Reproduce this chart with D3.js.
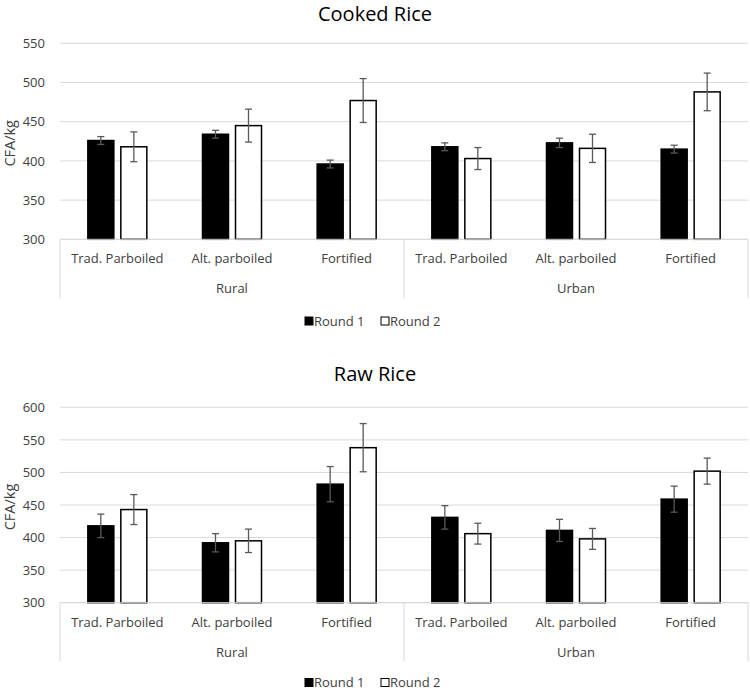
<!doctype html>
<html lang="en">
<head>
    <meta charset="UTF-8">
    <title>Cooked and Raw Rice prices</title>
    <script src="https://d3js.org/d3.v7.min.js"></script>
    <style>
      body { margin: 0; background: #fff; }
      text { font-family: "Open Sans", sans-serif; }
    </style>
</head>
<body>
    <div id="chart"></div>

    <script>

      // Categories
      const groups = ['Rural', 'Urban'];
      const types = ['Trad. Parboiled', 'Alt. parboiled', 'Fortified'];
      const series = ['Round 1', 'Round 2'];

      // Cooked rice (CFA/kg), order: Rural x3, Urban x3
      const cookedRound1 = [426, 434, 396, 418, 423, 415];
      const cookedRound1Err = [5, 5, 5, 5, 6, 5];
      const cookedRound2 = [418, 445, 477, 403, 416, 488];
      const cookedRound2Err = [19, 21, 28, 14, 18, 24];

      // Raw rice (CFA/kg)
      const rawRound1 = [418, 392, 482, 431, 411, 459];
      const rawRound1Err = [18, 14, 27, 18, 17, 20];
      const rawRound2 = [443, 395, 538, 406, 398, 502];
      const rawRound2Err = [23, 18, 37, 16, 16, 20];

      // Tick labels
      const cookedTicks = [300, 350, 400, 450, 500, 550];
      const rawTicks = [300, 350, 400, 450, 500, 550, 600];

      const width = 750;
      const height = 691;

      const svg = d3.select('#chart')
          .append('svg')
          .attr('width', width)
          .attr('height', height);

      // category keys: "Rural|Trad. Parboiled", ...
      const cats = [];
      groups.forEach(g => types.forEach(t => cats.push(g + '|' + t)));

      const x = d3.scaleBand()
          .domain(cats)
          .range([60, 748]);

      const bw = x.bandwidth();
      const xs = d3.scaleBand()
          .domain(series)
          .range([bw / 2 - 29.5, bw / 2 + 29.5])
          .paddingInner(7 / 33);

      function drawPanel(opts) {
        const y = d3.scaleLinear()
            .domain([opts.ticks[0], opts.ticks[opts.ticks.length - 1]])
            .range([opts.bottom, opts.top]);

        const g = svg.append('g');
        const base = y(opts.ticks[0]);

        // title
        g.append('text')
            .attr('x', 375)
            .attr('y', opts.titleY)
            .attr('text-anchor', 'middle')
            .attr('font-size', 20)
            .attr('fill', '#000')
            .text(opts.title);

        // gridlines
        g.append('g')
            .selectAll('line')
            .data(opts.ticks)
            .join('line')
            .attr('x1', 60)
            .attr('x2', 748)
            .attr('y1', d => y(d))
            .attr('y2', d => y(d))
            .attr('stroke', '#d9d9d9')
            .attr('stroke-width', 1);

        // y axis labels
        const yAxis = d3.axisLeft(y).tickValues(opts.ticks).tickSize(0).tickPadding(15);
        g.append('g')
            .attr('transform', 'translate(60,0)')
            .call(yAxis)
            .call(a => a.select('.domain').remove())
            .call(a => a.selectAll('text')
                .attr('font-size', 13)
                .attr('font-family', '"Open Sans", sans-serif')
                .attr('fill', '#404040'));

        // y axis title
        g.append('text')
            .attr('transform', `translate(15,${(opts.top + opts.bottom) / 2 + 2}) rotate(-90)`)
            .attr('text-anchor', 'middle')
            .attr('font-size', 14.5)
            .attr('fill', '#404040')
            .text('CFA/kg');

        // category axis box
        const seps = [60, x(groups[1] + '|' + types[0]), 748];
        g.append('g')
            .selectAll('line')
            .data(seps)
            .join('line')
            .attr('x1', d => d).attr('x2', d => d)
            .attr('y1', base)
            .attr('y2', base + 59)
            .attr('stroke', '#d9d9d9');

        // bars
        const rows = [];
        cats.forEach((c, i) => {
          rows.push({ cat: c, s: series[0], v: opts.r1[i], e: opts.e1[i] });
          rows.push({ cat: c, s: series[1], v: opts.r2[i], e: opts.e2[i] });
        });

        g.append('g')
            .selectAll('rect')
            .data(rows)
            .join('rect')
            .attr('x', d => x(d.cat) + xs(d.s))
            .attr('y', d => y(d.v))
            .attr('width', xs.bandwidth())
            .attr('height', d => base - y(d.v))
            .attr('fill', d => d.s === series[0] ? '#000' : '#fff')
            .attr('stroke', '#000')
            .attr('stroke-width', 1.5);

        // error bars
        const eb = g.append('g')
            .attr('stroke', '#595959')
            .attr('stroke-width', 1.3)
            .selectAll('g')
            .data(rows)
            .join('g')
            .attr('transform', d => `translate(${x(d.cat) + xs(d.s) + xs.bandwidth() / 2},0)`);
        eb.append('line')
            .attr('y1', d => y(d.v - d.e))
            .attr('y2', d => y(d.v + d.e));
        eb.append('line')
            .attr('x1', -3.5).attr('x2', 3.5)
            .attr('y1', d => y(d.v - d.e))
            .attr('y2', d => y(d.v - d.e));
        eb.append('line')
            .attr('x1', -3.5).attr('x2', 3.5)
            .attr('y1', d => y(d.v + d.e))
            .attr('y2', d => y(d.v + d.e));

        // axis line
        g.append('line')
            .attr('x1', 60).attr('x2', 748)
            .attr('y1', base).attr('y2', base)
            .attr('stroke', '#d9d9d9');

        g.append('g')
            .selectAll('text')
            .data(cats)
            .join('text')
            .attr('x', d => x(d) + bw / 2)
            .attr('y', base + 24)
            .attr('text-anchor', 'middle')
            .attr('font-size', 13)
            .attr('fill', '#404040')
            .text(d => d.split('|')[1]);

        g.append('g')
            .selectAll('text')
            .data(groups)
            .join('text')
            .attr('x', d => (x(d + '|' + types[0]) + x(d + '|' + types[2]) + bw) / 2)
            .attr('y', base + 54)
            .attr('text-anchor', 'middle')
            .attr('font-size', 13)
            .attr('fill', '#404040')
            .text(d => d);

        // legend
        const lg = g.append('g')
            .attr('transform', `translate(0,${opts.legendY})`);
        const items = lg.selectAll('g')
            .data(series)
            .join('g')
            .attr('transform', (d, i) => `translate(${305 + i * 76},0)`);
        items.append('rect')
            .attr('x', 0).attr('y', -4)
            .attr('width', 8).attr('height', 8)
            .attr('fill', (d, i) => i === 0 ? '#000' : '#fff')
            .attr('stroke', '#000')
            .attr('stroke-width', 1);
        items.append('text')
            .attr('x', 9)
            .attr('y', 4.5)
            .attr('font-size', 13)
            .attr('fill', '#404040')
            .text(d => d);
      }

      drawPanel({
        title: 'Cooked Rice', titleY: 21,
        top: 43.3, bottom: 239.3, ticks: cookedTicks,
        r1: cookedRound1, e1: cookedRound1Err,
        r2: cookedRound2, e2: cookedRound2Err,
        legendY: 321
      });

      drawPanel({
        title: 'Raw Rice', titleY: 381,
        top: 407.3, bottom: 602.7, ticks: rawTicks,
        r1: rawRound1, e1: rawRound1Err,
        r2: rawRound2, e2: rawRound2Err,
        legendY: 682.5
      });

    </script>
</body>
</html>
